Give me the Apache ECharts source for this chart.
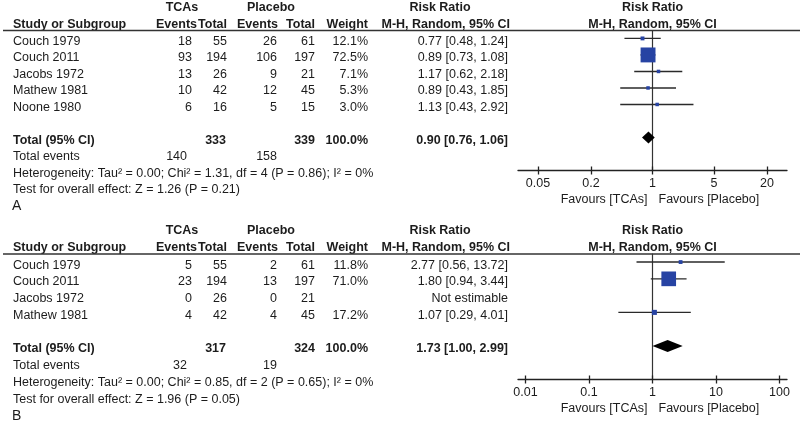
<!DOCTYPE html>
<html>
<head>
<meta charset="utf-8">
<script src="https://cdn.jsdelivr.net/npm/echarts@6/dist/echarts.min.js"></script>
<style>
  html, body { margin: 0; padding: 0; background: #fff; }
  #main { width: 800px; height: 427px; }
</style>
</head>
<body>
<div id="main"></div>
<script>
// panel A data
const studiesA = ['Couch 1979', 'Couch 2011', 'Jacobs 1972', 'Mathew 1981', 'Noone 1980'];
const tcaEventsA = [18, 93, 13, 10, 6];
const tcaTotalA = [55, 194, 26, 42, 16];
const plcEventsA = [26, 106, 9, 12, 5];
const plcTotalA = [61, 197, 21, 45, 15];
const weightA = [12.1, 72.5, 7.1, 5.3, 3.0];
const rrA = [0.77, 0.89, 1.17, 0.89, 1.13];
const lowA = [0.48, 0.73, 0.62, 0.43, 0.43];
const highA = [1.24, 1.08, 2.18, 1.85, 2.92];
const pooledA = [0.90, 0.76, 1.06];
const hetA = 'Heterogeneity: Tau² = 0.00; Chi² = 1.31, df = 4 (P = 0.86); I² = 0%';
const testA = 'Test for overall effect: Z = 1.26 (P = 0.21)';
const ticksA = [0.05, 0.2, 1, 5, 20];

// panel B data
const studiesB = ['Couch 1979', 'Couch 2011', 'Jacobs 1972', 'Mathew 1981'];
const tcaEventsB = [5, 23, 0, 4];
const tcaTotalB = [55, 194, 26, 42];
const plcEventsB = [2, 13, 0, 4];
const plcTotalB = [61, 197, 21, 45];
const weightB = [11.8, 71.0, null, 17.2];
const rrB = [2.77, 1.80, null, 1.07];
const lowB = [0.56, 0.94, null, 0.29];
const highB = [13.72, 3.44, null, 4.01];
const pooledB = [1.73, 1.00, 2.99];
const hetB = 'Heterogeneity: Tau² = 0.00; Chi² = 0.85, df = 2 (P = 0.65); I² = 0%';
const testB = 'Test for overall effect: Z = 1.96 (P = 0.05)';
const ticksB = [0.01, 0.1, 1, 10, 100];

const FONT = "'Liberation Sans', Arial, sans-serif";
const FS = 12.5;
const INK = '#1c1c1c';
const BOX = '#2743a3';
const Y_MIN = -0.48;

const sum = arr => arr.reduce((a, b) => a + (b || 0), 0);
const ci = (e, l, h) => `${e.toFixed(2)} [${l.toFixed(2)}, ${h.toFixed(2)}]`;

function buildRows(d) {
  const n = d.studies.length;
  const rows = [];
  rows.push({ row: -2.05, cells: [
    { text: 'TCAs', x: 182, align: 'center', bold: true },
    { text: 'Placebo', x: 271, align: 'center', bold: true },
    { text: 'Risk Ratio', x: 440, align: 'center', bold: true },
    { text: 'Risk Ratio', onNull: true, x: 0, align: 'center', bold: true }
  ]});
  rows.push({ row: -1.05, underline: true, cells: [
    { text: 'Study or Subgroup', x: 13, align: 'left', bold: true },
    { text: 'Events', x: 197, align: 'right', bold: true },
    { text: 'Total', x: 227, align: 'right', bold: true },
    { text: 'Events', x: 278, align: 'right', bold: true },
    { text: 'Total', x: 315, align: 'right', bold: true },
    { text: 'Weight', x: 368, align: 'right', bold: true },
    { text: 'M-H, Random, 95% CI', x: 510, align: 'right', bold: true },
    { text: 'M-H, Random, 95% CI', onNull: true, x: 0, align: 'center', bold: true }
  ]});
  d.studies.forEach((s, i) => {
    rows.push({ row: i, cells: [
      { text: s, x: 13, align: 'left' },
      { text: String(d.tcaEv[i]), x: 192, align: 'right' },
      { text: String(d.tcaTot[i]), x: 227, align: 'right' },
      { text: String(d.plcEv[i]), x: 277, align: 'right' },
      { text: String(d.plcTot[i]), x: 315, align: 'right' },
      { text: d.weight[i] == null ? '' : d.weight[i].toFixed(1) + '%', x: 368, align: 'right' },
      { text: d.rr[i] == null ? 'Not estimable' : ci(d.rr[i], d.low[i], d.high[i]), x: 508, align: 'right' }
    ]});
  });
  rows.push({ row: n + 1, cells: [
    { text: 'Total (95% CI)', x: 13, align: 'left', bold: true },
    { text: String(sum(d.tcaTot)), x: 226, align: 'right', bold: true },
    { text: String(sum(d.plcTot)), x: 315, align: 'right', bold: true },
    { text: sum(d.weight).toFixed(1) + '%', x: 368, align: 'right', bold: true },
    { text: ci(d.pooled[0], d.pooled[1], d.pooled[2]), x: 508, align: 'right', bold: true }
  ]});
  rows.push({ row: n + 2, cells: [
    { text: 'Total events', x: 13, align: 'left' },
    { text: String(sum(d.tcaEv)), x: 187, align: 'right' },
    { text: String(sum(d.plcEv)), x: 277, align: 'right' }
  ]});
  rows.push({ row: n + 3, cells: [{ text: d.het, x: 13, align: 'left' }] });
  rows.push({ row: n + 4, cells: [{ text: d.test, x: 13, align: 'left' }] });
  rows.push({ row: n + 5, cells: [{ text: d.letter, x: 12, align: 'left', size: 14 }] });
  rows.push({ row: n + 3, dy: 29, cells: [
    { text: 'Favours [TCAs]', onNull: true, x: -5, align: 'right' },
    { text: 'Favours [Placebo]', onNull: true, x: 6, align: 'left' }
  ]});
  return rows;
}

const panels = [
  { studies: studiesA, tcaEv: tcaEventsA, tcaTot: tcaTotalA, plcEv: plcEventsA, plcTot: plcTotalA,
    weight: weightA, rr: rrA, low: lowA, high: highA, pooled: pooledA, het: hetA, test: testA,
    ticks: ticksA, letter: 'A', top: 30.5, axisY: 170.5, xExt: 1.528 },
  { studies: studiesB, tcaEv: tcaEventsB, tcaTot: tcaTotalB, plcEv: plcEventsB, plcTot: plcTotalB,
    weight: weightB, rr: rrB, low: lowB, high: highB, pooled: pooledB, het: hetB, test: testB,
    ticks: ticksB, letter: 'B', top: 254, axisY: 379.5, xExt: 2.118 }
];

const grid = [], xAxis = [], yAxis = [], series = [];

panels.forEach((d, g) => {
  const n = d.studies.length;
  const yMax = n + 3;
  const tickVals = d.ticks.map(Math.log10);
  grid.push({ left: 518, right: 13, top: d.top, height: d.axisY - d.top });

  xAxis.push({
    type: 'value', gridIndex: g, min: -d.xExt, max: d.xExt, position: 'bottom',
    axisLine: { onZero: false, lineStyle: { color: '#222', width: 1.3 } },
    axisTick: { customValues: tickVals, length: 4, lineStyle: { color: '#222', width: 1.3 } },
    axisLabel: {
      customValues: tickVals, margin: 7, color: INK, fontSize: FS, fontFamily: FONT,
      formatter: v => String(d.ticks.find(t => Math.abs(Math.log10(t) - v) < 1e-6))
    },
    splitLine: { show: false }
  });
  xAxis.push({
    type: 'value', gridIndex: g, min: -d.xExt, max: d.xExt, position: 'bottom',
    axisLine: { show: false, onZero: false },
    axisTick: { customValues: tickVals, inside: true, length: 4, lineStyle: { color: '#222', width: 1.3 } },
    axisLabel: { show: false },
    splitLine: { show: false }
  });
  yAxis.push({
    type: 'value', gridIndex: g, inverse: true, min: Y_MIN, max: yMax,
    axisLine: { show: true, onZero: true, onZeroAxisIndex: g * 2, lineStyle: { color: '#333', width: 1.2 } },
    axisTick: { show: false }, axisLabel: { show: false }, splitLine: { show: false }
  });

  // table text
  const rows = buildRows(d);
  series.push({
    type: 'custom', xAxisIndex: g * 2, yAxisIndex: g, silent: true, z: 5,
    data: rows.map(r => [0, r.row]),
    renderItem: (params, api) => {
      const r = rows[params.dataIndex];
      const base = api.coord([0, r.row]);
      const y = base[1] + (r.dy != null ? r.dy : 3);
      const children = r.cells.map(c => ({
        type: 'text',
        style: {
          x: c.onNull ? base[0] + c.x : c.x, y: y, text: c.text,
          align: c.align, verticalAlign: 'middle', fill: INK,
          font: `${c.bold ? 'bold ' : ''}${c.size || FS}px ${FONT}`
        }
      }));
      if (r.underline) {
        const ly = api.coord([0, Y_MIN])[1];
        children.push({ type: 'line', shape: { x1: 3, y1: ly, x2: 800, y2: ly },
          style: { stroke: '#333', lineWidth: 1.5 } });
      }
      return { type: 'group', children };
    }
  });

  // confidence intervals
  const ciData = [];
  d.rr.forEach((v, i) => { if (v != null) ciData.push([Math.log10(d.low[i]), Math.log10(d.high[i]), i]); });
  series.push({
    type: 'custom', xAxisIndex: g * 2, yAxisIndex: g, silent: true, z: 3,
    data: ciData,
    renderItem: (params, api) => {
      const a = api.coord([api.value(0), api.value(2)]);
      const b = api.coord([api.value(1), api.value(2)]);
      return { type: 'line', shape: { x1: a[0], y1: a[1], x2: b[0], y2: b[1] },
        style: { stroke: '#2a2a2a', lineWidth: 1.4 } };
    }
  });

  // weighted boxes
  const boxData = [];
  d.rr.forEach((v, i) => { if (v != null) boxData.push([Math.log10(v), i, d.weight[i]]); });
  series.push({
    type: 'scatter', xAxisIndex: g * 2, yAxisIndex: g, silent: true, z: 4,
    symbol: 'rect', data: boxData,
    symbolSize: v => Math.max(3.5, 0.6 * Math.pow(v[2], 0.75)),
    itemStyle: { color: BOX, opacity: 1 }
  });

  // pooled diamond
  series.push({
    type: 'custom', xAxisIndex: g * 2, yAxisIndex: g, silent: true, z: 4,
    data: [[Math.log10(d.pooled[0]), Math.log10(d.pooled[1]), Math.log10(d.pooled[2]), n + 1]],
    renderItem: (params, api) => {
      const c = api.coord([api.value(0), api.value(3)]);
      const l = api.coord([api.value(1), api.value(3)]);
      const h = api.coord([api.value(2), api.value(3)]);
      return { type: 'polygon',
        shape: { points: [[l[0], c[1]], [c[0], c[1] - 6], [h[0], c[1]], [c[0], c[1] + 6]] },
        style: { fill: '#000' } };
    }
  });
});

const chart = echarts.init(document.getElementById('main'));
chart.setOption({ animation: false, backgroundColor: '#fff', grid, xAxis, yAxis, series });
</script>
</body>
</html>
